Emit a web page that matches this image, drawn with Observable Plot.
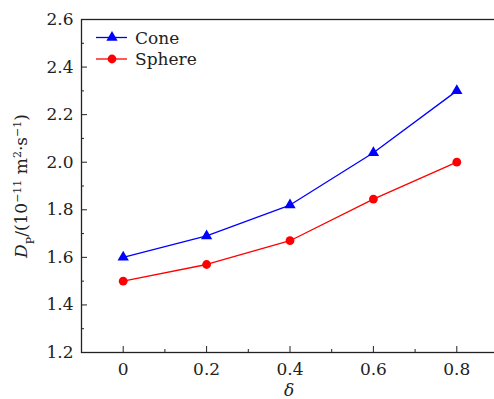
<!DOCTYPE html>
<html><head><meta charset="utf-8">
<script src="https://cdn.jsdelivr.net/npm/d3@7"></script>
<script src="https://cdn.jsdelivr.net/npm/@observablehq/plot@0.6"></script>
<style>
body{margin:0;background:#fff;}
#wrap{position:relative;width:494px;height:399px;overflow:hidden;}
</style></head><body><div id="wrap"></div>
<script>
const delta = [0, 0.2, 0.4, 0.6, 0.8];
const cone = [1.60, 1.69, 1.82, 2.04, 2.30];
const sphere = [1.50, 1.57, 1.67, 1.845, 2.00];
const seriesNames = ["Cone", "Sphere"];
const seriesColors = ["#0000ff", "#ff0000"];
const xTicks = [0, 0.2, 0.4, 0.6, 0.8];
const xMinor = [-0.1, 0.1, 0.3, 0.5, 0.7, 0.9];
const yTicks = [1.2, 1.4, 1.6, 1.8, 2.0, 2.2, 2.4, 2.6];
const yMinor = [1.3, 1.5, 1.7, 1.9, 2.1, 2.3, 2.5];

const rows = [];
delta.forEach((d, i) => rows.push({x: d, y: cone[i], s: seriesNames[0]}));
delta.forEach((d, i) => rows.push({x: d, y: sphere[i], s: seriesNames[1]}));
const coneRows = rows.filter(r => r.s === "Cone");
const sphereRows = rows.filter(r => r.s === "Sphere");

const font = "DejaVu Serif";
const axisColor = "#222";

const chart = Plot.plot({
  width: 494,
  height: 399,
  marginLeft: 81,
  marginRight: -4,
  marginTop: 19,
  marginBottom: 47,
  style: {fontFamily: font, fontSize: "17px", color: axisColor, background: "#fff", overflow: "hidden"},
  x: {domain: [-0.1, 0.9], label: null},
  y: {domain: [1.2, 2.6], label: null},
  color: {domain: seriesNames, range: seriesColors},
  marks: [
    Plot.frame({stroke: axisColor, strokeWidth: 1.3}),
    Plot.axisX(xTicks, {anchor: "bottom", tickSize: -6, tickPadding: 16, stroke: axisColor, fill: axisColor,
      tickFormat: d => d === 0 ? "0" : d.toFixed(1), label: null}),
    Plot.axisX(xMinor, {anchor: "bottom", tickSize: -3, stroke: axisColor, tickFormat: () => "", label: null}),
    Plot.axisY(yTicks, {anchor: "left", tickSize: -6, tickPadding: 14, stroke: axisColor, fill: axisColor,
      tickFormat: d => d.toFixed(1), label: null}),
    Plot.axisY(yMinor, {anchor: "left", tickSize: -3, stroke: axisColor, tickFormat: () => "", label: null}),
    Plot.line(rows, {x: "x", y: "y", z: "s", stroke: "s", strokeWidth: 1.3}),
    Plot.dot(coneRows, {x: "x", y: "y", symbol: "triangle", r: 4.2, fill: "s", stroke: "none"}),
    Plot.dot(sphereRows, {x: "x", y: "y", symbol: "circle", r: 4.4, fill: "s", stroke: "none"})
  ]
});
document.getElementById("wrap").appendChild(chart);

const svg = d3.select(chart);
// legend
const leg = svg.append("g").attr("font-family", font).attr("font-size", 17).attr("text-anchor", "start");
const legY = [37.5, 59];
const triSym = d3.symbol(d3.symbolTriangle, 4.2 * 4.2 * Math.PI)();
seriesNames.forEach((name, i) => {
  const g = leg.append("g").attr("transform", `translate(0,${legY[i]})`);
  g.append("line").attr("x1", 96).attr("x2", 127).attr("y1", 0).attr("y2", 0)
    .attr("stroke", seriesColors[i]).attr("stroke-width", 1.3);
  if (i === 0) g.append("path").attr("d", triSym).attr("transform", "translate(112,0)").attr("fill", seriesColors[i]);
  else g.append("circle").attr("cx", 112).attr("cy", 0).attr("r", 4.4).attr("fill", seriesColors[i]);
  g.append("text").attr("x", 135).attr("y", 0).attr("dy", "0.36em").attr("fill", "#222").attr("text-anchor", "start").text(name);
});
// y label
const yl = svg.append("text").attr("font-family", font).attr("font-size", 17).attr("fill", "#222")
  .attr("text-anchor", "middle").attr("transform", "translate(27,186) rotate(-90)");
yl.append("tspan").attr("font-style", "italic").text("D");
yl.append("tspan").attr("font-size", 11).attr("baseline-shift", "sub").text("P");
yl.append("tspan").text("/(10");
yl.append("tspan").attr("font-size", 11).attr("baseline-shift", "super").text("−11");
yl.append("tspan").text(" m");
yl.append("tspan").attr("font-size", 11).attr("baseline-shift", "super").text("2");
yl.append("tspan").text("·s");
yl.append("tspan").attr("font-size", 11).attr("baseline-shift", "super").text("−1");
yl.append("tspan").text(")");
// x label
svg.append("text").attr("font-family", font).attr("font-size", 17).attr("font-style", "italic").attr("fill", "#222")
  .attr("text-anchor", "middle").attr("x", 289).attr("y", 396).text("δ");
</script></body></html>
